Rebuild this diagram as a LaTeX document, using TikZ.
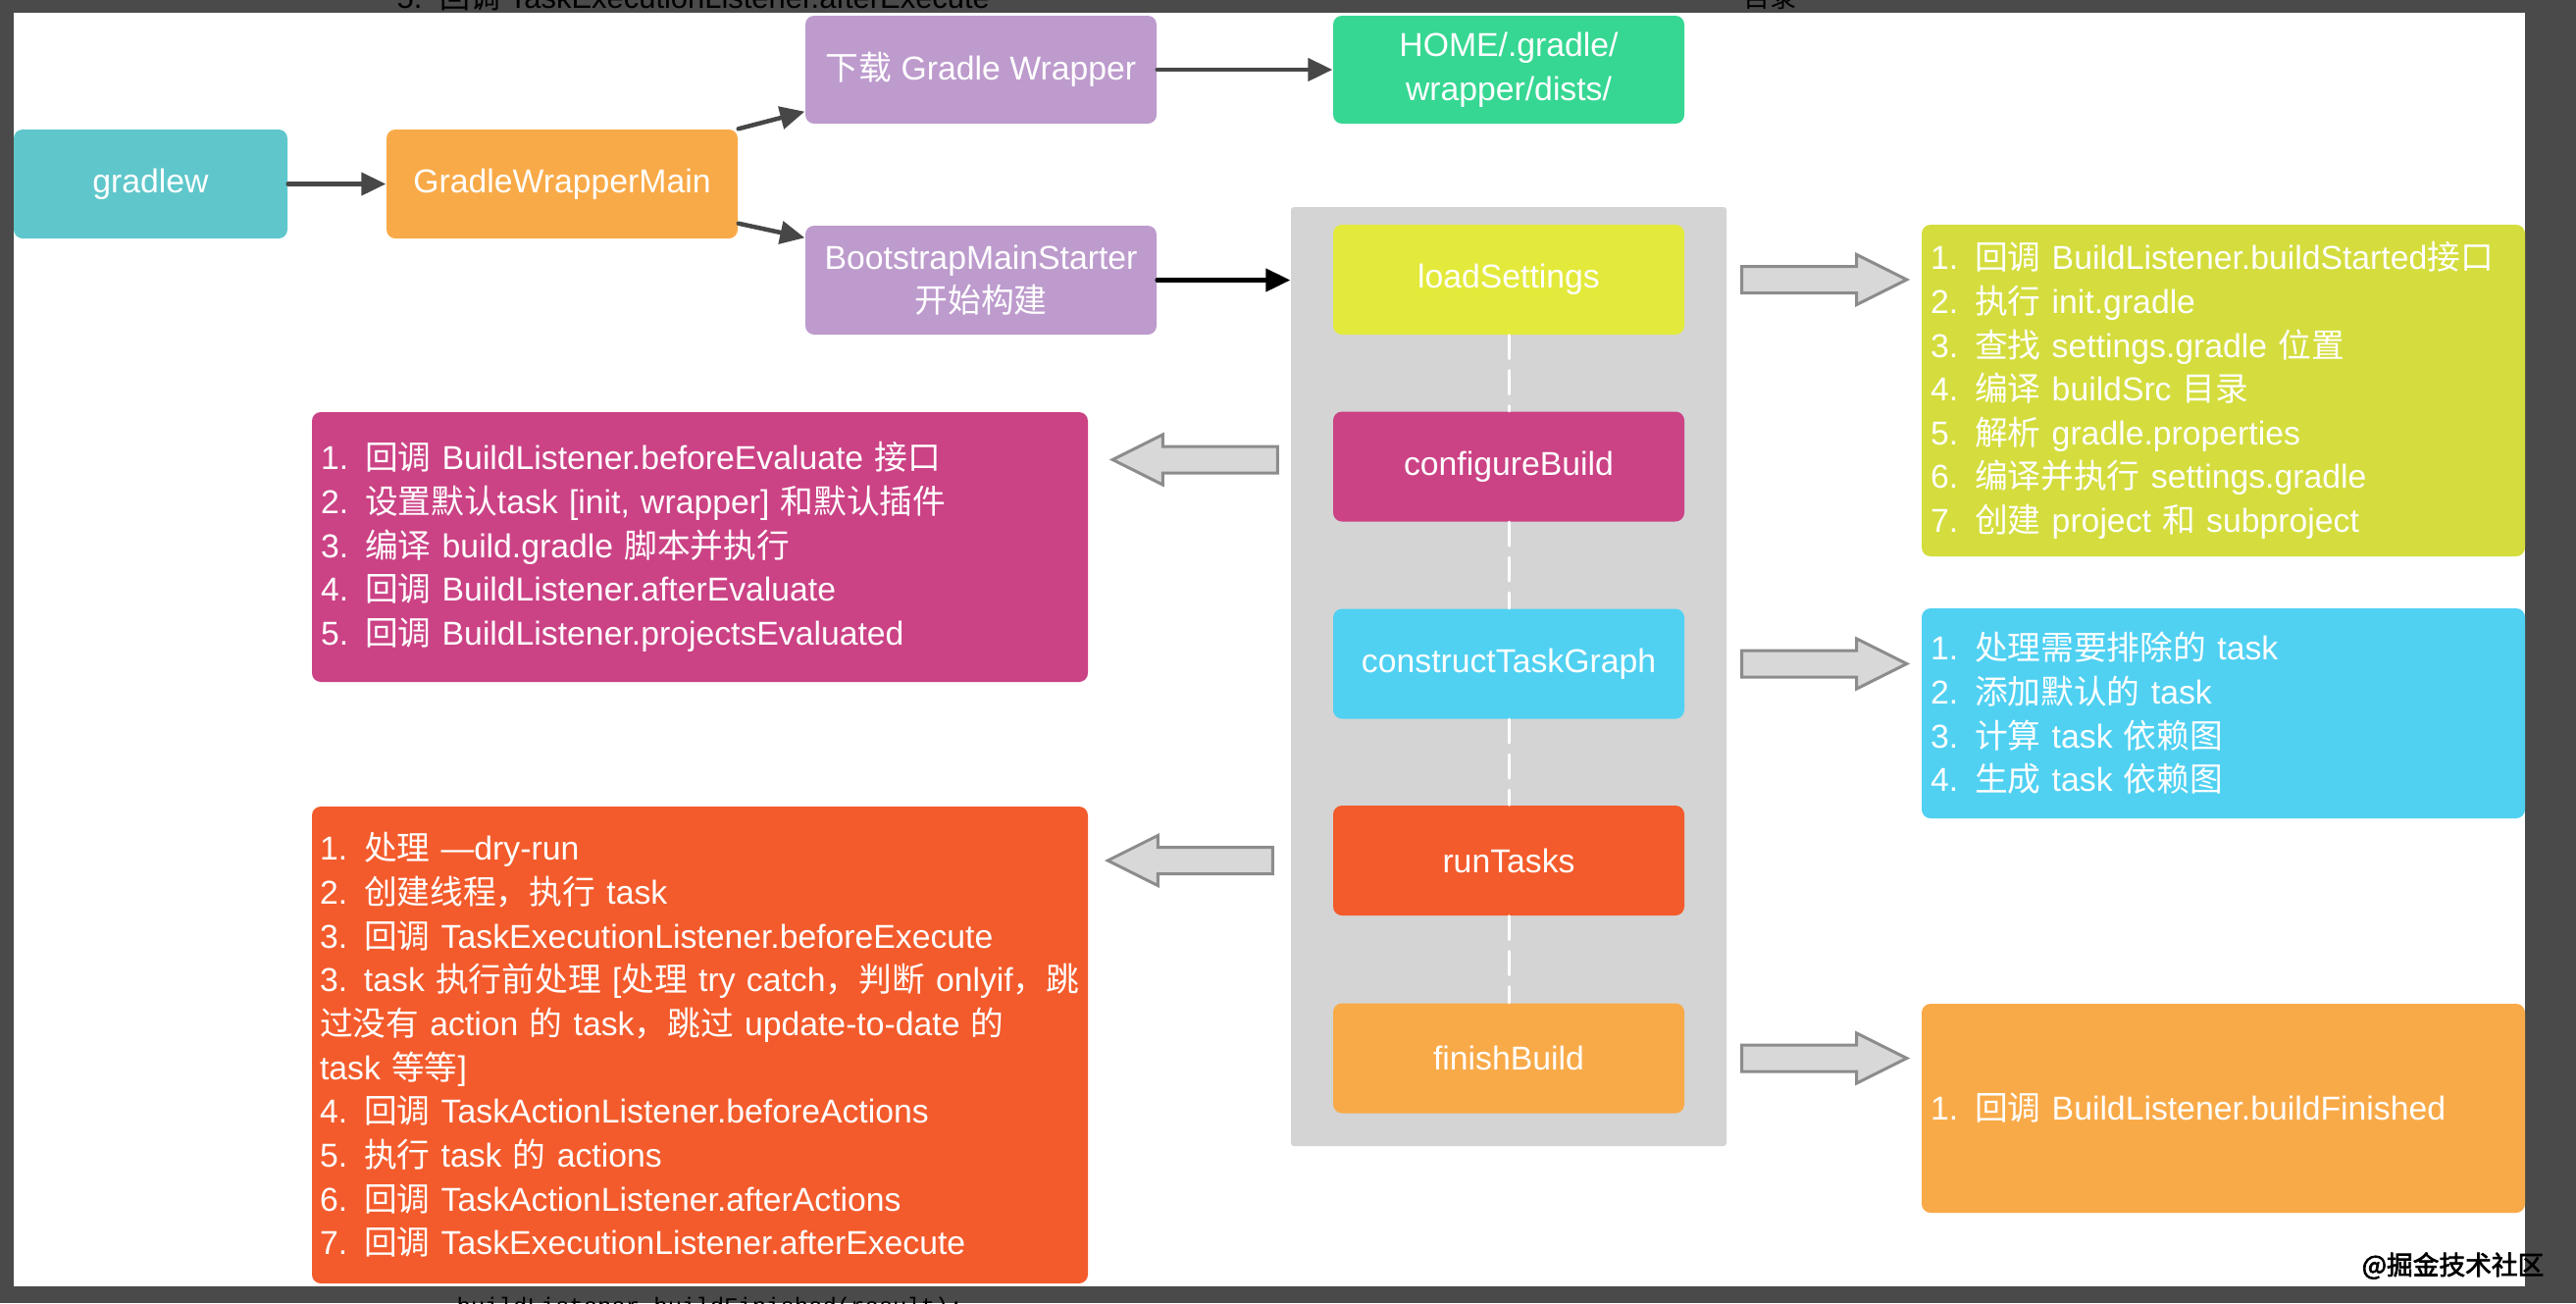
\documentclass[tikz,border=0pt]{standalone}
\usepackage{fontspec}
\setmainfont{Liberation Sans}
\setmonofont{Liberation Mono}
\newfontfamily\cjk{Noto Sans CJK SC}
\newfontfamily\cjkmark[FakeBold=2.5]{Noto Sans CJK SC}
\usetikzlibrary{arrows.meta,calc}
\newcommand\zh[1]{{\cjk #1}}
\newcommand\boxfont{\fontsize{9.6}{12.7}\selectfont}
\definecolor{cframe}{HTML}{4A4A4A}
\definecolor{cteal}{HTML}{5FC7CB}
\definecolor{corange}{HTML}{F9AA48}
\definecolor{cpurple}{HTML}{BD9BCD}
\definecolor{cgreen}{HTML}{36D792}
\definecolor{cpanel}{HTML}{D4D4D4}
\definecolor{cyellow}{HTML}{E3EA3B}
\definecolor{cyellowdesc}{HTML}{D4DD3D}
\definecolor{cmagenta}{HTML}{CB4285}
\definecolor{ccyan}{HTML}{50D1F2}
\definecolor{cred}{HTML}{F35B2C}
\definecolor{carrowfill}{HTML}{D8D8D8}
\definecolor{carrowline}{HTML}{8C8C8C}
\definecolor{cdark}{HTML}{474747}
\tikzset{
  box/.style={rounded corners=0.9mm, text=white, inner sep=0pt, font=\boxfont},
  flow/.style={box, minimum width=35.8mm, minimum height=11.1mm, align=center},
  stage/.style={box, minimum width=35.8mm, minimum height=11.2mm},
  note/.style={box, align=left, inner xsep=0.9mm},
  darr/.style={draw=cdark, line width=0.45mm, -{Triangle[length=2.5mm,width=2.3mm]}},
  dashline/.style={draw=white, line width=0.3mm, dash pattern=on 2.4mm off 1.2mm},
  blockline/.style={fill=carrowfill, draw=carrowline, line width=0.3mm, line join=miter},
  pics/blockarrow/.style={code={
    \draw[blockline] (0,-13.5) -- (117,-13.5) -- (117,-25.5) -- (168,0)
      -- (117,25.5) -- (117,13.5) -- (0,13.5) -- cycle;
  }}
}
\begin{document}
\begin{tikzpicture}[x=0.1mm,y=-0.1mm,line cap=round,line join=round]
  \useasboundingbox (0,0) rectangle (2626,1328);
  \fill[cframe] (0,0) rectangle (2626,1328);
  \node[anchor=base west,inner sep=0pt,text=black,font=\fontsize{8.8}{10}\selectfont] (cuttop) at (404,8) {5.\hspace{1.8mm}\zh{回调} TaskExecutionListener.afterExecute};
  \node[anchor=base west,inner sep=0pt,text=black,font=\cjk\fontsize{7.7}{9}\selectfont] (cutdir) at (1777,7) {目录};
  \node[anchor=base west,inner sep=0pt,text=black,font=\ttfamily\fontsize{6.8}{8}\selectfont] (cutcode) at (465,1339) {buildListener.buildFinished(result);};
  \fill[white] (14,13) rectangle (2574,1311);

  \node[box, fill=cteal, minimum width=27.9mm, minimum height=11.1mm] (gradlew) at (153.5,187.5) {gradlew};
  \node[flow, fill=corange] (gwmain) at (573,187.5) {GradleWrapperMain};
  \node[flow, fill=cpurple, minimum height=11mm] (download) at (1000,71) {\zh{下载} Gradle Wrapper};
  \node[flow, fill=cpurple] (bootstrap) at (1000,285.5) {BootstrapMainStarter\\\zh{开始构建}};
  \node[flow, fill=cgreen, minimum height=11mm] (home) at (1538,71) {HOME/.gradle/\\wrapper/dists/};

  \node[fill=cpanel, rounded corners=0.3mm, inner sep=0pt, minimum width=44.4mm, minimum height=95.7mm] (panel) at (1538,689.5) {};
  \node[stage, fill=cyellow] (load) at (1538,285) {loadSettings};
  \node[stage, fill=cmagenta] (config) at (1538,475.5) {configureBuild};
  \node[stage, fill=ccyan] (graph) at (1538,676.5) {constructTaskGraph};
  \node[stage, fill=cred] (run) at (1538,877) {runTasks};
  \node[stage, fill=corange] (finish) at (1538,1078.5) {finishBuild};

  \draw[dashline] (load) -- (config);
  \draw[dashline] (config) -- (graph);
  \draw[dashline] (graph) -- (run);
  \draw[dashline] (run) -- (finish);

  \draw[darr] (gradlew) -- (gwmain);
  \draw[darr] (gwmain.north east) -- ([yshift=1.3mm]download.south west);
  \draw[darr] ([yshift=1.6mm]gwmain.south east) -- ([yshift=-1.3mm]bootstrap.north west);
  \draw[darr] (download) -- (home);
  \draw[darr, draw=black] (bootstrap.east) -- (panel.west |- bootstrap.east);

  \node[note, fill=cyellowdesc, minimum width=61.5mm, minimum height=33.8mm, text width=59.7mm] (loaddesc) at (2266.5,398) {1. \zh{回调} BuildListener.buildStarted\zh{接口}\\
2. \zh{执行} init.gradle\\
3. \zh{查找} settings.gradle \zh{位置}\\
4. \zh{编译} buildSrc \zh{目录}\\
5. \zh{解析} gradle.properties\\
6. \zh{编译并执行} settings.gradle\\
7. \zh{创建} project \zh{和} subproject};
  \node[note, fill=cmagenta, minimum width=79.1mm, minimum height=27.5mm, text width=77.3mm] (configdesc) at (713.5,557.5) {1. \zh{回调} BuildListener.beforeEvaluate \zh{接口}\\
2. \zh{设置默认}task [init, wrapper] \zh{和默认插件}\\
3. \zh{编译} build.gradle \zh{脚本并执行}\\
4. \zh{回调} BuildListener.afterEvaluate\\
5. \zh{回调} BuildListener.projectsEvaluated};
  \node[note, fill=ccyan, minimum width=61.5mm, minimum height=21.4mm, text width=59.7mm] (graphdesc) at (2266.5,727) {1. \zh{处理需要排除的} task\\
2. \zh{添加默认的} task\\
3. \zh{计算} task \zh{依赖图}\\
4. \zh{生成} task \zh{依赖图}};
  \node[note, fill=cred, minimum width=79.1mm, minimum height=48.6mm, text width=77.5mm, inner xsep=0.8mm] (rundesc) at (713.5,1065) {1. \zh{处理} —dry-run\\
2. \zh{创建线程，执行} task\\
3. \zh{回调} TaskExecutionListener.beforeExecute\\
3. task \zh{执行前处理} [\zh{处理} try catch\zh{，判断} onlyif\zh{，跳}\\
\zh{过没有} action \zh{的} task\zh{，跳过} update-to-date \zh{的}\\
task \zh{等等}]\\
4. \zh{回调} TaskActionListener.beforeActions\\
5. \zh{执行} task \zh{的} actions\\
6. \zh{回调} TaskActionListener.afterActions\\
7. \zh{回调} TaskExecutionListener.afterExecute};
  \node[note, fill=corange, minimum width=61.5mm, minimum height=21.3mm, text width=59.7mm] (finishdesc) at (2266.5,1129.5) {1. \zh{回调} BuildListener.buildFinished};

  \pic at ([xshift=5.8mm]load.east) {blockarrow};
  \pic[rotate=180] at ([xshift=-5.6mm,yshift=0.7mm]config.west) {blockarrow};
  \pic at ([xshift=5.8mm]graph.east) {blockarrow};
  \pic[rotate=180] at ([xshift=-6.1mm]run.west) {blockarrow};
  \pic at ([xshift=5.8mm]finish.east) {blockarrow};

  \node[anchor=east,inner sep=0pt,text=black,font=\cjkmark\fontsize{7.6}{9}\selectfont] (mark) at (2594,1290) {@掘金技术社区};
\end{tikzpicture}
\end{document}
